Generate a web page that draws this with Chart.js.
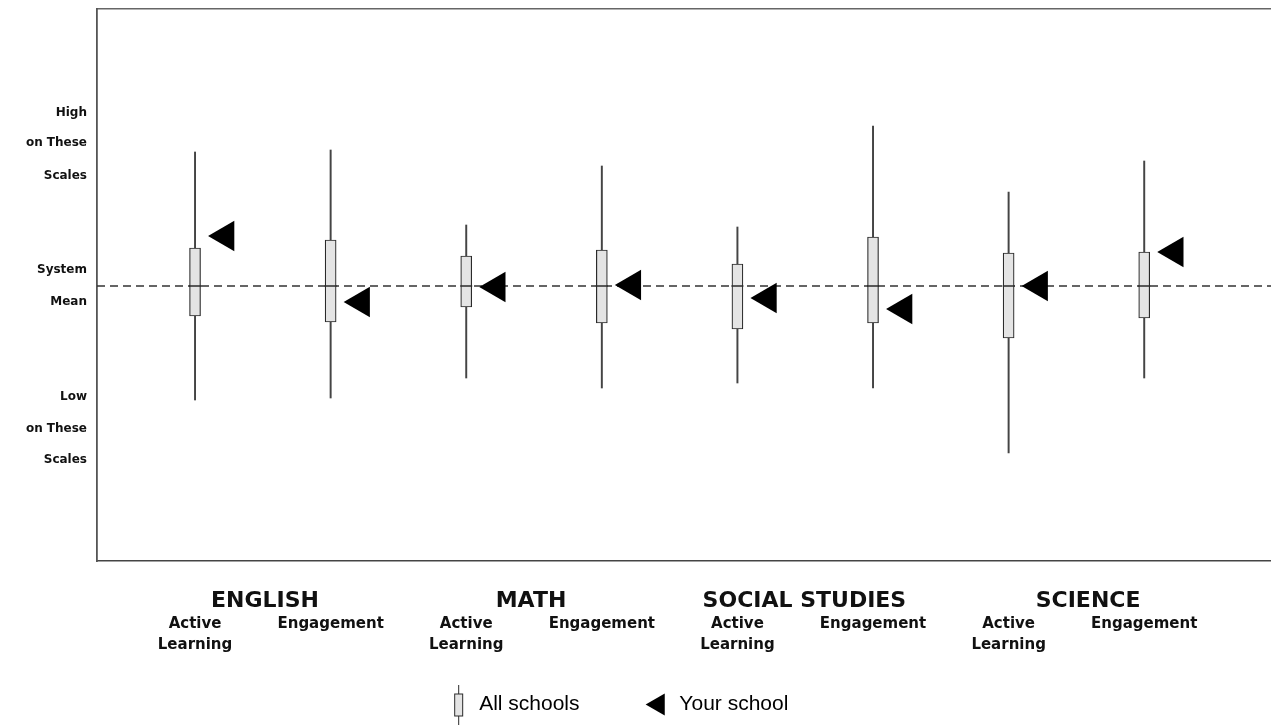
<!DOCTYPE html>
<html>
<head>
<meta charset="utf-8">
<script src="https://cdn.jsdelivr.net/npm/chart.js@4.4.1/dist/chart.umd.min.js"></script>
<style>
  html, body { margin: 0; padding: 0; background: #fff; }
  #wrap { width: 1271px; height: 725px; position: relative; }
</style>
</head>
<body>
<div id="wrap"><canvas id="chart"></canvas></div>
<script>
// values, in "distance from system mean" units
const categories = ['English Active Learning', 'English Engagement', 'Math Active Learning', 'Math Engagement',
  'Social Studies Active Learning', 'Social Studies Engagement', 'Science Active Learning', 'Science Engagement'];
const subLabels = [['Active', 'Learning'], 'Engagement', ['Active', 'Learning'], 'Engagement',
  ['Active', 'Learning'], 'Engagement', ['Active', 'Learning'], 'Engagement'];
const subjects = ['ENGLISH', 'MATH', 'SOCIAL STUDIES', 'SCIENCE'];
const subjectPos = [0.516, 2.478, 4.494, 6.586];

const whiskerHigh = [2.68, 2.72, 1.22, 2.40, 1.18, 3.20, 1.88, 2.50];
const boxHigh     = [0.76, 0.92, 0.60, 0.72, 0.44, 0.98, 0.66, 0.68];
const medians     = [0.00, 0.00, 0.00, 0.00, 0.00, 0.00, 0.00, 0.00];
const boxLow      = [-0.60, -0.72, -0.42, -0.74, -0.86, -0.74, -1.04, -0.64];
const whiskerLow  = [-2.28, -2.24, -1.84, -2.04, -1.94, -2.04, -3.34, -1.84];
const yourSchool  = [1.00, -0.32, -0.02, 0.02, -0.24, -0.46, 0.00, 0.68];
const systemMean = 0;

const yTickValues = [3.46, 2.86, 2.20, 0.32, -0.32, -2.22, -2.86, -3.48];
const yTickLabels = ['High', 'on These', 'Scales', 'System', 'Mean', 'Low', 'on These', 'Scales'];

const X_MIN = -0.723, X_MAX = 7.935;
const Y_MIN = -5.5, Y_MAX = 5.54;
const schoolShift = 0.225;
const ink = '#2a2a2a';
const boxFill = '#e4e4e4';

// little boxplot glyph for the legend
function makeBoxIcon() {
  const c = document.createElement('canvas');
  c.width = 12; c.height = 40;
  const g = c.getContext('2d');
  g.strokeStyle = ink;
  g.lineWidth = 1;
  g.beginPath(); g.moveTo(6.5, 0); g.lineTo(6.5, 40); g.stroke();
  g.fillStyle = boxFill;
  g.fillRect(2.5, 9.5, 8, 22);
  g.strokeRect(2.5, 9.5, 8, 22);
  return c;
}

// keep the plot frame exactly where the axes say, no label overflow padding
function noPad(axis) {
  axis.paddingTop = 0; axis.paddingBottom = 0;
  axis.paddingLeft = 0; axis.paddingRight = 0;
}

const boldFont = (size, lh) => ({ family: '"DejaVu Sans", sans-serif', weight: 'bold', size: size, lineHeight: lh || 1.2 });

new Chart(document.getElementById('chart'), {
  type: 'bar',
  data: {
    datasets: [
      {
        type: 'scatter',
        label: 'Your school',
        data: yourSchool.map((v, i) => ({ x: i + schoolShift, y: v })),
        pointStyle: 'triangle',
        rotation: 270,
        radius: 17.5,
        backgroundColor: '#000',
        borderColor: '#000',
        borderWidth: 0,
        order: 0
      },
      {
        type: 'scatter',
        label: 'median',
        data: medians.map((v, i) => ({ x: i, y: v })),
        pointStyle: 'line',
        radius: 6,
        borderColor: ink,
        borderWidth: 1.5,
        order: 1
      },
      {
        label: 'All schools',
        data: boxLow.map((v, i) => ({ x: i, y: [v, boxHigh[i]] })),
        backgroundColor: boxFill,
        borderColor: ink,
        borderWidth: 1.2,
        borderSkipped: false,
        barThickness: 11,
        grouped: false,
        order: 2
      },
      {
        label: 'range',
        data: whiskerLow.map((v, i) => ({ x: i, y: [v, whiskerHigh[i]] })),
        backgroundColor: '#444',
        borderWidth: 0,
        barThickness: 1.3,
        grouped: false,
        order: 3
      },
      {
        type: 'line',
        label: 'System mean',
        data: [{ x: X_MIN, y: systemMean }, { x: X_MAX, y: systemMean }],
        borderColor: '#333',
        borderWidth: 1.6,
        borderDash: [8, 5],
        pointRadius: 0,
        order: 4
      }
    ]
  },
  options: {
    responsive: true,
    maintainAspectRatio: false,
    animation: false,
    layout: { padding: 0, autoPadding: false },
    scales: {
      x: {
        type: 'linear',
        position: 'bottom',
        weight: 2,
        min: X_MIN,
        max: X_MAX,
        offset: false,
        grid: { display: false, offset: false, drawTicks: false },
        border: { display: false },
        afterBuildTicks: axis => { axis.ticks = subLabels.map((l, i) => ({ value: i })); },
        afterFit: axis => { axis.height = 70; noPad(axis); },
        ticks: {
          autoSkip: false,
          maxRotation: 0,
          padding: 0,
          color: '#111',
          font: boldFont(15, 1.4),
          callback: (v, i) => subLabels[i]
        }
      },
      xSubject: {
        type: 'linear',
        position: 'bottom',
        weight: 1,
        min: X_MIN,
        max: X_MAX,
        offset: false,
        grid: { display: false, offset: false, drawTicks: false },
        border: { display: true, color: '#444', width: 1.6 },
        afterBuildTicks: axis => { axis.ticks = subjectPos.map(p => ({ value: p })); },
        afterFit: axis => { axis.height = 53; noPad(axis); },
        ticks: {
          autoSkip: false,
          maxRotation: 0,
          padding: 27,
          color: '#111',
          font: boldFont(22),
          callback: (v, i) => subjects[i]
        }
      },
      xTop: {
        type: 'linear',
        position: 'top',
        min: X_MIN,
        max: X_MAX,
        offset: false,
        grid: { display: false, offset: false, drawTicks: false },
        border: { display: true, color: '#666', width: 1.4 },
        ticks: { display: false },
        afterFit: axis => { axis.height = 9; noPad(axis); }
      },
      y: {
        min: Y_MIN,
        max: Y_MAX,
        grid: { display: false, drawTicks: false },
        border: { display: true, color: '#555', width: 1.8 },
        afterBuildTicks: axis => { axis.ticks = yTickValues.map(v => ({ value: v })); },
        afterFit: axis => { axis.width = 97; noPad(axis); },
        ticks: {
          autoSkip: false,
          padding: 10,
          color: '#111',
          font: boldFont(12),
          callback: (v, i) => yTickLabels[i]
        }
      }
    },
    plugins: {
      tooltip: { enabled: false },
      legend: {
        position: 'bottom',
        onClick: null,
        labels: {
          usePointStyle: true,
          boxHeight: 18,
          padding: 10,
          color: '#111',
          font: { family: '"Liberation Sans", Arial, sans-serif', size: 21 },
          generateLabels: () => [
            { text: 'All schools'.padEnd(21, ' '), pointStyle: makeBoxIcon(), fillStyle: boxFill,
              strokeStyle: ink, lineWidth: 0, hidden: false, datasetIndex: 2 },
            { text: 'Your school'.padEnd(17, ' '), pointStyle: 'triangle', rotation: 270, fillStyle: '#000',
              strokeStyle: '#000', lineWidth: 0, hidden: false, datasetIndex: 0 }
          ]
        }
      }
    }
  }
});
</script>
</body>
</html>
